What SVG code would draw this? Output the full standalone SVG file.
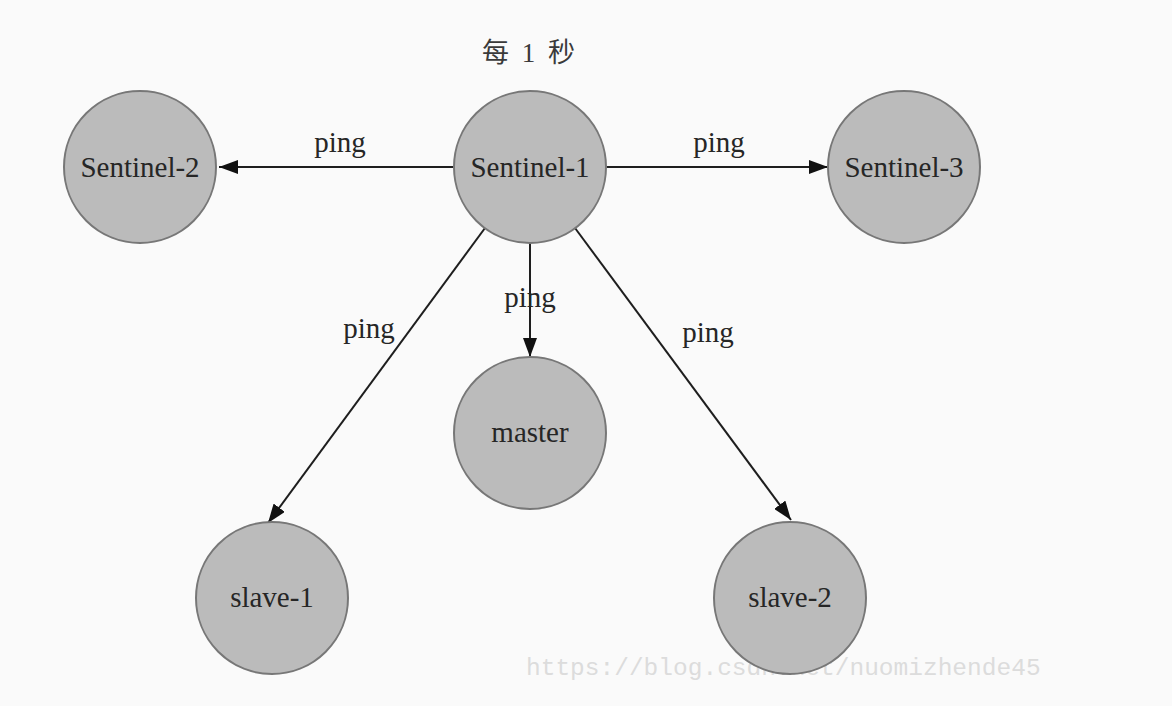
<svg xmlns="http://www.w3.org/2000/svg" width="1172" height="706" viewBox="0 0 1172 706">
  <style>
    .bg { fill: #fafafa; }
    .node circle { fill: #bbbbbb; stroke: #777777; stroke-width: 2; }
    .node text { font-family: "Liberation Serif", "DejaVu Serif", serif; font-size: 29px; fill: #262626; text-anchor: middle; }
    .edge { stroke: #1e1e1e; stroke-width: 2; fill: none; marker-end: url(#arrow); }
    .lbl { font-family: "Liberation Serif", "DejaVu Serif", serif; font-size: 29px; fill: #262626; text-anchor: middle; }
    .title { font-family: "Liberation Serif", "Noto Sans CJK SC", serif; font-size: 27px; fill: #3a3a3a; text-anchor: middle; letter-spacing: 3px; }
    .wm { font-family: "Liberation Mono", "DejaVu Sans Mono", monospace; font-size: 24.5px; fill: #dcdcdc; }
  </style>
  <defs>
    <marker id="arrow" markerUnits="userSpaceOnUse" markerWidth="20" markerHeight="14" refX="19" refY="7" orient="auto">
      <path d="M0,0 L19,7 L0,14 Z" fill="#111111"/>
    </marker>
  </defs>

  <rect class="bg" x="0" y="0" width="1172" height="706"/>

  <!-- heading -->
  <text class="title" x="530" y="62">每 1 秒</text>

  <!-- watermark text sits under the circles -->
  <text class="wm" x="526" y="675">https://blog.csdn.net/nuomizhende45</text>

  <!-- connectors -->
  <g id="connectors">
    <line class="edge" x1="453" y1="167" x2="219" y2="167"/>
    <line class="edge" x1="606" y1="167" x2="828" y2="167"/>
    <line class="edge" x1="530" y1="243" x2="530" y2="357"/>
    <line class="edge" x1="485" y1="228" x2="268" y2="523"/>
    <line class="edge" x1="575" y1="228" x2="791" y2="520"/>
    <text class="lbl" x="340" y="152">ping</text>
    <text class="lbl" x="719" y="152">ping</text>
    <text class="lbl" x="530" y="307">ping</text>
    <text class="lbl" x="369" y="338">ping</text>
    <text class="lbl" x="708" y="342">ping</text>
  </g>

  <!-- nodes -->
  <g id="sentinel-1" class="node">
    <circle cx="530" cy="167" r="76"/>
    <text x="530" y="177">Sentinel-1</text>
  </g>
  <g id="sentinel-2" class="node">
    <circle cx="140" cy="167" r="76"/>
    <text x="140" y="177">Sentinel-2</text>
  </g>
  <g id="sentinel-3" class="node">
    <circle cx="904" cy="167" r="76"/>
    <text x="904" y="177">Sentinel-3</text>
  </g>
  <g id="master" class="node">
    <circle cx="530" cy="433" r="76"/>
    <text x="530" y="442">master</text>
  </g>
  <g id="slave-1" class="node">
    <circle cx="272" cy="598" r="76"/>
    <text x="272" y="607">slave-1</text>
  </g>
  <g id="slave-2" class="node">
    <circle cx="790" cy="598" r="76"/>
    <text x="790" y="607">slave-2</text>
  </g>
</svg>
